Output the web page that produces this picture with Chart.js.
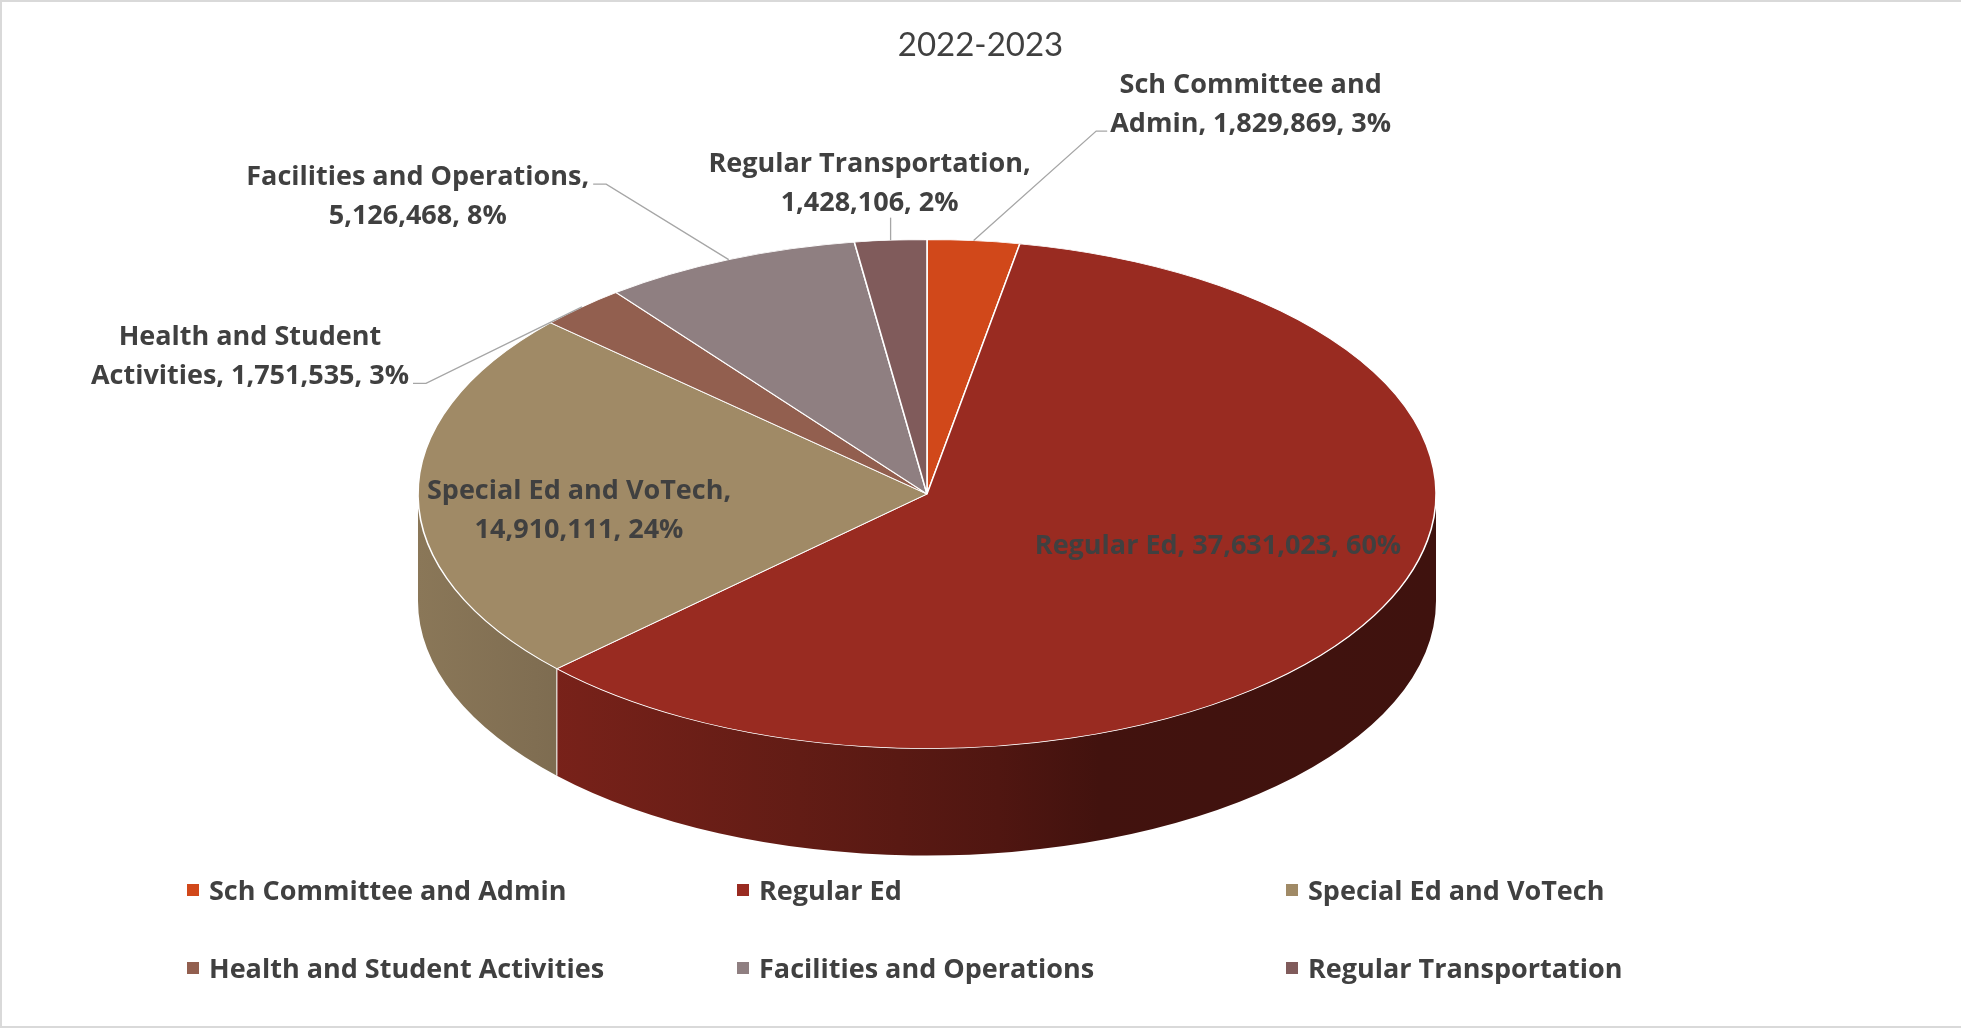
<!DOCTYPE html>
<html>
<head>
<meta charset="utf-8">
<title>2022-2023</title>
<script src="https://cdn.jsdelivr.net/npm/chart.js@4.4.1/dist/chart.umd.min.js"></script>
<style>
  html, body { margin: 0; padding: 0; background: #ffffff; }
  #wrap { width: 1961px; height: 1028px; position: relative; }
  canvas { display: block; }
</style>
</head>
<body>
<div id="wrap"><canvas id="budget" width="1961" height="1028"></canvas></div>
<script>
// ---- data ----
const chartTitle = '2022-2023';
const categories = [
  'Sch Committee and Admin',
  'Regular Ed',
  'Special Ed and VoTech',
  'Health and Student Activities',
  'Facilities and Operations',
  'Regular Transportation'
];
const amounts = [1829869, 37631023, 14910111, 1751535, 5126468, 1428106];
// number of words kept on the first line of each data label (0 = single line)
const labelBreaks = [3, 0, 4, 3, 3, 2];

// ---- styling / layout ----
const sliceColors = ['#D1481A', '#992B21', '#A08A66', '#925F4F', '#8F7F81', '#805B5B'];
const TEXT_COLOR = '#404040';
const LABEL_FONT = 'bold 27px "Open Sans", Lato, sans-serif';
const TITLE_FONT = '33px Lato, "Open Sans", sans-serif';
const LINE_H = 39;
const TEXT_NUDGE = 2;   // optical centring of Open Sans on a 'middle' baseline
const PIE = { cx: 927, cy: 494, r: 509, tilt: 0.5, depth: 107 };
// label block centre, as offset from the rim point at the slice's mid angle
const labelLayout = [
  { dx: 277,  dy: -138, leader: 'left',  line: 1 },
  { dx: -156, dy: -71,  leader: null },
  { dx: 161,  dy: 12,   leader: null },
  { dx: -332, dy: 48,   leader: 'right', line: 1 },
  { dx: -311, dy: -65,  leader: 'right', line: 0 },
  { dx: -21,  dy: -58,  leader: 'bottom' }
];
const legendCols = [187, 737, 1286];
const legendRows = [890, 968];

function shade(hex, f) {
  const n = parseInt(hex.slice(1), 16);
  const r = Math.round(((n >> 16) & 255) * f);
  const g = Math.round(((n >> 8) & 255) * f);
  const b = Math.round((n & 255) * f);
  return `rgb(${r},${g},${b})`;
}

// darkening of the rim wall from left to right
const wallShade = [[0, 0.86], [0.115, 0.80], [0.375, 0.64], [0.57, 0.52], [0.67, 0.43], [1, 0.41]];

// Draws the visible outer wall under each slice, then squashes the pie into an ellipse.
const pie3d = {
  id: 'pie3d',
  beforeDatasetDraw(chart, args) {
    const ctx = chart.ctx;
    const arcs = args.meta.data;
    const colors = chart.data.datasets[0].backgroundColor;
    const cx = arcs[0].x, cy = arcs[0].y, rx = arcs[0].outerRadius;
    const ry = rx * PIE.tilt, D = PIE.depth;

    arcs.forEach((arc, i) => {
      const a = Math.max(arc.startAngle, 0);
      const b = Math.min(arc.endAngle, Math.PI);
      if (b <= a) return;
      const grad = ctx.createLinearGradient(cx - rx, 0, cx + rx, 0);
      wallShade.forEach(([p, f]) => grad.addColorStop(p, shade(colors[i], f)));
      ctx.beginPath();
      ctx.ellipse(cx, cy, rx, ry, 0, a, b, false);
      ctx.ellipse(cx, cy + D, rx, ry, 0, b, a, true);
      ctx.closePath();
      ctx.fillStyle = grad;
      ctx.fill();
    });
    // seams between neighbouring walls
    ctx.save();
    ctx.strokeStyle = 'rgba(255,255,255,0.85)';
    ctx.lineWidth = 1.2;
    arcs.forEach(arc => {
      const t = arc.startAngle;
      if (t > 0 && t < Math.PI) {
        const x = cx + rx * Math.cos(t), y = cy + ry * Math.sin(t);
        ctx.beginPath();
        ctx.moveTo(x, y);
        ctx.lineTo(x, y + D);
        ctx.stroke();
      }
    });
    ctx.restore();

    ctx.save();
    ctx.translate(0, cy);
    ctx.scale(1, PIE.tilt);
    ctx.translate(0, -cy);
  },
  afterDatasetDraw(chart) {
    chart.ctx.restore();
  }
};

// Title, data labels with leader lines, legend and frame.
const annotate = {
  id: 'annotate',
  afterDraw(chart) {
    const ctx = chart.ctx;
    const W = chart.width, H = chart.height;
    const arcs = chart.getDatasetMeta(0).data;
    const values = chart.data.datasets[0].data;
    const total = values.reduce((s, v) => s + v, 0);

    ctx.save();
    // frame
    ctx.strokeStyle = '#d9d9d9';
    ctx.lineWidth = 2;
    ctx.beginPath();
    ctx.moveTo(1, H - 1); ctx.lineTo(1, 1); ctx.lineTo(W, 1);
    ctx.moveTo(0, H - 1); ctx.lineTo(W, H - 1);
    ctx.stroke();

    // title
    ctx.fillStyle = TEXT_COLOR;
    ctx.font = TITLE_FONT;
    ctx.textAlign = 'center';
    ctx.textBaseline = 'middle';
    ctx.fillText(chartTitle, W / 2, 45);

    // data labels
    ctx.font = LABEL_FONT;
    arcs.forEach((arc, i) => {
      const cx = arc.x, cy = arc.y, rx = arc.outerRadius, ry = rx * PIE.tilt;
      const mid = (arc.startAngle + arc.endAngle) / 2;
      const ex = cx + rx * Math.cos(mid), ey = cy + ry * Math.sin(mid);
      const pct = Math.round(values[i] / total * 100);
      const words = `${chart.data.labels[i]}, ${values[i].toLocaleString('en-US')}, ${pct}%`.split(' ');
      const k = labelBreaks[i];
      const lines = k > 0 ? [words.slice(0, k).join(' '), words.slice(k).join(' ')] : [words.join(' ')];
      const L = labelLayout[i];
      const bx = ex + L.dx, by = ey + L.dy;
      const lineY = lines.map((_, j) => by + (j - (lines.length - 1) / 2) * LINE_H);

      ctx.fillStyle = TEXT_COLOR;
      lines.forEach((t, j) => ctx.fillText(t, bx, lineY[j] + TEXT_NUDGE));

      if (L.leader) {
        ctx.strokeStyle = '#a6a6a6';
        ctx.lineWidth = 1.3;
        ctx.beginPath();
        if (L.leader === 'bottom') {
          ctx.moveTo(ex, lineY[lines.length - 1] + 16);
          ctx.lineTo(ex, ey);
        } else {
          const w = ctx.measureText(lines[L.line]).width;
          const y = lineY[L.line] + 9;
          const sx = L.leader === 'right' ? bx + w / 2 + 4 : bx - w / 2 - 3;
          const kx = L.leader === 'right' ? sx + 13 : sx - 11;
          ctx.moveTo(sx, y);
          ctx.lineTo(kx, y);
          ctx.lineTo(ex, ey);
        }
        ctx.stroke();
      }
    });

    // legend
    const colors = chart.data.datasets[0].backgroundColor;
    ctx.textAlign = 'left';
    chart.data.labels.forEach((name, i) => {
      const x = legendCols[i % 3], y = legendRows[Math.floor(i / 3)];
      ctx.fillStyle = colors[i];
      ctx.fillRect(x, y - 6, 12, 12);
      ctx.fillStyle = TEXT_COLOR;
      ctx.fillText(name, x + 22, y + TEXT_NUDGE);
    });
    ctx.restore();
  }
};

const canvas = document.getElementById('budget');
new Chart(canvas.getContext('2d'), {
  type: 'pie',
  data: {
    labels: categories,
    datasets: [{
      data: amounts,
      backgroundColor: sliceColors,
      borderColor: '#ffffff',
      borderWidth: 1.6,
      clip: false
    }]
  },
  options: {
    responsive: false,
    animation: false,
    events: [],
    radius: PIE.r,
    layout: {
      padding: { left: 0, top: 0, right: 1961 - 2 * PIE.cx, bottom: 1028 - 2 * PIE.cy }
    },
    plugins: {
      legend: { display: false },
      title: { display: false },
      tooltip: { enabled: false }
    }
  },
  plugins: [pie3d, annotate]
});
</script>
</body>
</html>
